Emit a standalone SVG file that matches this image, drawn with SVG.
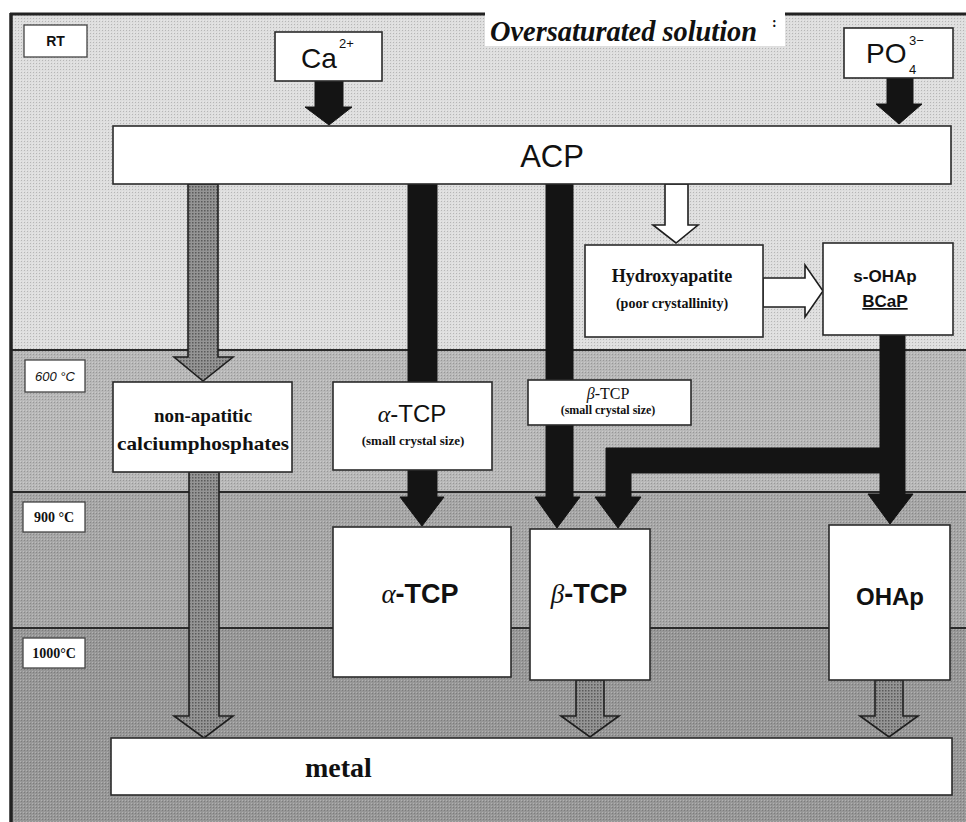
<svg xmlns="http://www.w3.org/2000/svg" width="966" height="822" viewBox="0 0 966 822">
<defs>
<pattern id="grid" width="3" height="3" patternUnits="userSpaceOnUse">
<rect x="0" y="0" width="1" height="1" fill="#000" fill-opacity="0.18"/>
<rect x="2" y="2" width="1" height="1" fill="#fff" fill-opacity="0.25"/>
</pattern>
<pattern id="dots" width="3" height="3" patternUnits="userSpaceOnUse">
<rect width="3" height="3" fill="#959595"/>
<rect x="0" y="0" width="1.5" height="1.5" fill="#5a5a5a"/>
</pattern>
</defs>
<style>
.box{fill:#fff;stroke:#2a2a2a;stroke-width:1.6}
.lbl{fill:#fff;stroke:#444;stroke-width:1.3}
.blk{fill:#141414;stroke:#141414;stroke-width:1}
.gry{fill:url(#dots);stroke:#1e1e1e;stroke-width:1.6}
.wht{fill:#fff;stroke:#1e1e1e;stroke-width:1.6}
.sans{font-family:"Liberation Sans",Arial,sans-serif;fill:#111}
.serif{font-family:"Liberation Serif","Times New Roman",serif;fill:#111}
.band{stroke:#2a2a2a;stroke-width:2.2}
</style>
<rect width="966" height="822" fill="#fff"/>
<!-- temperature bands -->
<rect x="11" y="14" width="955" height="336" fill="#dedede"/>
<rect x="11" y="350" width="955" height="142" fill="#b8b8b8"/>
<rect x="11" y="492" width="955" height="136" fill="#a6a6a6"/>
<rect x="11" y="628" width="955" height="194" fill="#979797"/>
<rect x="11" y="14" width="955" height="808" fill="url(#grid)"/>
<line class="band" x1="11" y1="350" x2="966" y2="350"/>
<line class="band" x1="11" y1="492" x2="966" y2="492"/>
<line class="band" x1="11" y1="628" x2="966" y2="628"/>
<line x1="10" y1="14" x2="966" y2="14" stroke="#222" stroke-width="3"/>
<line x1="11" y1="13" x2="11" y2="822" stroke="#222" stroke-width="3.5"/>

<!-- temperature labels -->
<g id="label-rt"><rect class="lbl" x="24" y="25" width="63" height="32"/><text class="sans" x="55.5" y="46" font-size="14" font-weight="bold" text-anchor="middle">RT</text></g>
<g id="label-600"><rect class="lbl" x="25" y="360" width="60" height="32"/><text class="sans" x="55" y="381" font-size="13" font-style="italic" text-anchor="middle" fill="#333">600 °C</text></g>
<g id="label-900"><rect class="lbl" x="23" y="502" width="62" height="30"/><text class="serif" x="54" y="522" font-size="14" font-weight="bold" text-anchor="middle">900 °C</text></g>
<g id="label-1000"><rect class="lbl" x="23" y="638" width="62" height="30"/><text class="serif" x="54" y="658" font-size="14" font-weight="bold" text-anchor="middle">1000°C</text></g>

<!-- title -->
<g id="title">
<rect x="485" y="12" width="300" height="34" fill="#fff"/>
<text class="serif" x="490" y="41" font-size="30" font-weight="bold" font-style="italic" textLength="267" lengthAdjust="spacingAndGlyphs">Oversaturated solution</text>
<text class="serif" x="772" y="27" font-size="14" font-weight="bold">:</text>
</g>

<!-- connectors -->
<g id="connectors">
<polygon class="blk" points="315,81 343,81 343,107 352,107 329,125 305,107 315,107"/>
<polygon class="blk" points="887,78 913,78 913,104 922,104 899,124 876,104 887,104"/>
<polygon class="blk" points="408,184 437,184 437,497 444,497 422,526 400,497 408,497"/>
<polygon class="blk" points="546,184 573,184 573,497 580,497 557,528 535,497 546,497"/>
<polygon class="blk" points="880,448 880,473 631,473 631,497 641,497 618,528 595,497 606,497 606,448"/>
<polygon class="blk" points="880,335 905,335 905,494 913,494 890,524 868,494 880,494"/>
<polygon class="gry" points="188,184 218,184 218,357 233,357 203,381 174,357 188,357"/>
<polygon class="gry" points="189,472 219,472 219,716 233,716 204,738 174,716 189,716"/>
<polygon class="gry" points="576,680 604,680 604,716 619,716 590,737 561,716 576,716"/>
<polygon class="gry" points="875,680 903,680 903,716 918,716 889,737 860,716 875,716"/>
<polygon class="wht" points="665,184 688,184 688,225 698,225 676,243 653,225 665,225"/>
<polygon class="wht" points="763,278 805,278 805,265 823,291 805,317 805,307 763,307"/>
</g>

<!-- nodes -->
<g id="ca"><rect class="box" x="275" y="32" width="107" height="49"/><text class="sans" x="301" y="68" font-size="28">Ca</text><text class="sans" x="339" y="48" font-size="13">2+</text></g>
<g id="po4"><rect class="box" x="844" y="28" width="109" height="50"/><text class="sans" x="866" y="63" font-size="28">PO</text><text class="sans" x="909" y="74" font-size="13">4</text><text class="sans" x="909" y="45" font-size="13">3−</text></g>
<g id="acp"><rect class="box" x="113" y="126" width="838" height="58"/><text class="sans" x="552" y="167" font-size="31" text-anchor="middle">ACP</text></g>
<g id="hydroxyapatite"><rect class="box" x="585" y="245" width="178" height="92"/><text class="serif" x="672" y="282" font-size="18" font-weight="bold" text-anchor="middle">Hydroxyapatite</text><text class="serif" x="672" y="308" font-size="14" font-weight="bold" text-anchor="middle">(poor crystallinity)</text></g>
<g id="s-ohap"><rect class="box" x="823" y="243" width="130" height="92"/><text class="sans" x="885" y="282" font-size="17" font-weight="bold" text-anchor="middle">s-OHAp</text><text class="sans" x="885" y="307" font-size="17" font-weight="bold" text-anchor="middle" text-decoration="underline">BCaP</text></g>
<g id="non-apatitic"><rect class="box" x="113" y="382" width="179" height="90"/><text class="serif" x="203" y="422" font-size="19" font-weight="bold" text-anchor="middle">non-apatitic</text><text class="serif" x="203" y="450" font-size="19" font-weight="bold" text-anchor="middle" textLength="172" lengthAdjust="spacingAndGlyphs">calciumphosphates</text></g>
<g id="alpha-tcp-small"><rect class="box" x="333" y="382" width="159" height="88"/><text class="sans" x="412" y="422" font-size="24" text-anchor="middle"><tspan class="serif" font-style="italic">α</tspan>-TCP</text><text class="serif" x="413" y="445" font-size="13" font-weight="bold" text-anchor="middle">(small crystal size)</text></g>
<g id="beta-tcp-small"><rect class="box" x="528" y="380" width="163" height="45"/><text class="serif" x="608" y="399" font-size="16" text-anchor="middle"><tspan font-style="italic">β</tspan>-TCP</text><text class="serif" x="608" y="414" font-size="12" font-weight="bold" text-anchor="middle">(small crystal size)</text></g>
<g id="alpha-tcp"><rect class="box" x="333" y="527" width="178" height="150"/><text class="sans" x="420" y="603" font-size="27" font-weight="bold" text-anchor="middle"><tspan class="serif" font-style="italic" font-weight="normal">α</tspan>-TCP</text></g>
<g id="beta-tcp"><rect class="box" x="530" y="529" width="120" height="151"/><text class="sans" x="589" y="603" font-size="27" font-weight="bold" text-anchor="middle"><tspan class="serif" font-style="italic" font-weight="normal">β</tspan>-TCP</text></g>
<g id="ohap"><rect class="box" x="829" y="525" width="121" height="155"/><text class="sans" x="890" y="605" font-size="24" font-weight="bold" text-anchor="middle">OHAp</text></g>
<g id="metal"><rect class="box" x="111" y="738" width="841" height="57"/><text class="serif" x="305" y="777" font-size="28" font-weight="bold">metal</text></g>
</svg>
